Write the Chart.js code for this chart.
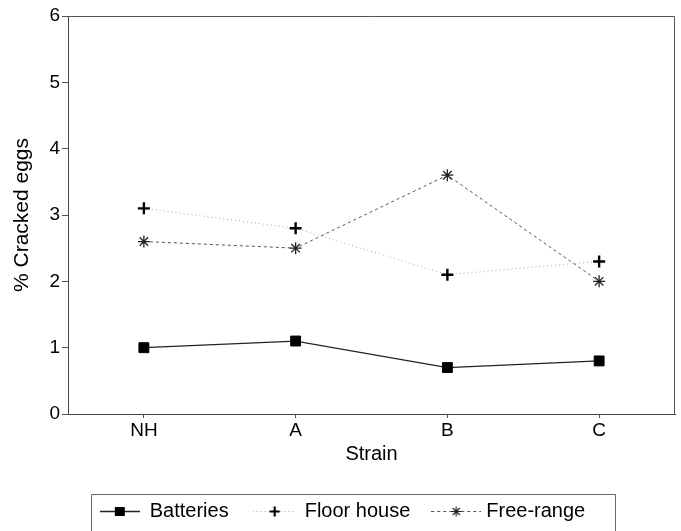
<!DOCTYPE html>
<html>
<head>
<meta charset="utf-8">
<script src="https://cdn.jsdelivr.net/npm/chart.js@4.4.1/dist/chart.umd.min.js"></script>
<style>
  html, body { margin: 0; padding: 0; background: #fff; }
  #wrap { width: 681px; height: 531px; }
</style>
</head>
<body>
<div id="wrap"><canvas id="eggChart" width="681" height="531"></canvas></div>
<script>
// values
const strains = ['NH', 'A', 'B', 'C'];
const batteries = [1.0, 1.1, 0.7, 0.8];
const floorHouse = [3.1, 2.8, 2.1, 2.3];
const freeRange = [2.6, 2.5, 3.6, 2.0];
const yTicks = [0, 1, 2, 3, 4, 5, 6];

const FONT = '"Liberation Sans", Arial, Helvetica, sans-serif';

// little line+marker samples for the legend
function legendSample(w, dash, color, lineW, drawMarker) {
  const c = document.createElement('canvas');
  c.width = w;
  c.height = 16;
  const g = c.getContext('2d');
  g.strokeStyle = color;
  g.lineWidth = lineW;
  g.setLineDash(dash);
  g.beginPath();
  g.moveTo(0, 8.5);
  g.lineTo(w, 8.5);
  g.stroke();
  g.setLineDash([]);
  drawMarker(g, w / 2, 8.5);
  return c;
}

const legendImgs = [
  legendSample(40, [], '#222', 1.3, function (g, x, y) {
    g.fillStyle = '#000';
    g.fillRect(x - 5, y - 4.5, 10, 9);
  }),
  legendSample(44, [1, 3], '#aaa', 1, function (g, x, y) {
    g.strokeStyle = '#000';
    g.lineWidth = 2.2;
    g.beginPath();
    g.moveTo(x - 5, y); g.lineTo(x + 5, y);
    g.moveTo(x, y - 5); g.lineTo(x, y + 5);
    g.stroke();
  }),
  legendSample(50, [3, 3], '#555', 1, function (g, x, y) {
    g.strokeStyle = '#222';
    g.lineWidth = 1.2;
    g.beginPath();
    g.moveTo(x - 5, y); g.lineTo(x + 5, y);
    g.moveTo(x, y - 5); g.lineTo(x, y + 5);
    g.moveTo(x - 3.5, y - 3.5); g.lineTo(x + 3.5, y + 3.5);
    g.moveTo(x - 3.5, y + 3.5); g.lineTo(x + 3.5, y - 3.5);
    g.stroke();
  })
];

// top/right frame of the plot and the box round the legend
const framePlugin = {
  id: 'frame',
  afterDraw(chart) {
    const ctx = chart.ctx;
    const a = chart.chartArea;
    ctx.save();
    ctx.strokeStyle = '#555';
    ctx.lineWidth = 1;
    ctx.beginPath();
    ctx.moveTo(a.left, a.top + 0.5);
    ctx.lineTo(a.right - 0.5, a.top + 0.5);
    ctx.lineTo(a.right - 0.5, a.bottom);
    ctx.stroke();

    const boxes = chart.legend.legendHitBoxes;
    if (boxes && boxes.length) {
      const first = boxes[0];
      const last = boxes[boxes.length - 1];
      const cy = first.top + first.height / 2;
      const l = Math.round(first.left - 9) + 0.5;
      const r = Math.round(last.left + last.width + 30) + 0.5;
      const t = Math.round(cy - 17) + 0.5;
      ctx.strokeStyle = '#666';
      ctx.beginPath();
      ctx.moveTo(l, chart.height + 2);
      ctx.lineTo(l, t);
      ctx.lineTo(r, t);
      ctx.lineTo(r, chart.height + 2);
      ctx.stroke();
    }
    ctx.restore();
  }
};

Chart.defaults.font.family = FONT;
Chart.defaults.color = '#000';

const data = {
  labels: strains,
  datasets: [
    {
      label: 'Batteries',
      data: batteries,
      borderColor: '#222',
      borderWidth: 1.3,
      pointStyle: 'rect',
      pointRadius: 7,
      pointBackgroundColor: '#000',
      pointBorderColor: '#000',
      pointBorderWidth: 1
    },
    {
      label: 'Floor house',
      data: floorHouse,
      borderColor: '#aaa',
      borderWidth: 1,
      borderDash: [1, 3],
      pointStyle: 'cross',
      pointRadius: 6,
      pointBorderColor: '#000',
      pointBorderWidth: 2.4
    },
    {
      label: 'Free-range',
      data: freeRange,
      borderColor: '#555',
      borderWidth: 1,
      borderDash: [3, 3],
      pointStyle: 'star',
      pointRadius: 6,
      pointBorderColor: '#222',
      pointBorderWidth: 1.3
    }
  ]
};

const config = {
  type: 'line',
  data: data,
  plugins: [framePlugin],
  options: {
    responsive: false,
    animation: false,
    layout: {
      autoPadding: false,
      padding: { top: 16, right: 6, bottom: 0, left: 10 }
    },
    plugins: {
      tooltip: { enabled: false },
      legend: {
        position: 'bottom',
        labels: {
          usePointStyle: true,
          pointStyleWidth: 40,
          padding: 26,
          font: { size: 20 },
          color: '#000',
          generateLabels(chart) {
            const items = Chart.defaults.plugins.legend.labels.generateLabels(chart);
            items.forEach(function (it, i) { it.pointStyle = legendImgs[i]; });
            return items;
          }
        }
      }
    },
    scales: {
      x: {
        offset: true,
        grid: {
          display: true,
          drawOnChartArea: false,
          drawTicks: true,
          tickLength: 4,
          color: '#555',
          offset: false
        },
        border: { display: true, color: '#444', width: 1 },
        ticks: { font: { size: 19 }, color: '#000', padding: 1 },
        title: {
          display: true,
          text: 'Strain',
          font: { size: 20 },
          color: '#000',
          padding: { top: 0, bottom: 9 }
        },
        afterFit(scale) { scale.height = 61; }
      },
      y: {
        min: 0,
        max: 6,
        afterBuildTicks(scale) {
          scale.ticks = yTicks.map(function (v) { return { value: v }; });
        },
        grid: {
          display: true,
          drawOnChartArea: false,
          drawTicks: true,
          tickLength: 6,
          color: '#555'
        },
        border: { display: true, color: '#444', width: 1 },
        ticks: { font: { size: 19 }, color: '#000', padding: 2 },
        title: {
          display: true,
          text: '% Cracked eggs',
          font: { size: 21 },
          color: '#000',
          padding: { top: 0, bottom: 0 }
        },
        afterFit(scale) { scale.width = 58; }
      }
    }
  }
};

const eggChart = new Chart(document.getElementById('eggChart').getContext('2d'), config);
</script>
</body>
</html>
